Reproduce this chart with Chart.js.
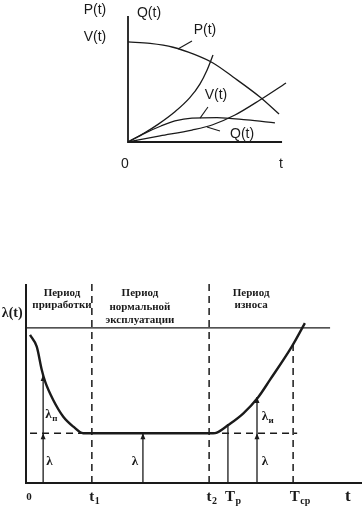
<!DOCTYPE html>
<html>
<head>
<meta charset="utf-8">
<script src="https://cdn.jsdelivr.net/npm/chart.js@4"></script>
<style>
  html, body { margin: 0; padding: 0; background: #fff; }
  body { width: 363px; height: 507px; position: relative; overflow: hidden; }
  canvas { position: absolute; left: 0; }
  #topChart { top: 0; }
  #bottomChart { top: 250px; }
</style>
</head>
<body>
<canvas id="topChart" width="363" height="250"></canvas>
<canvas id="bottomChart" width="363" height="257"></canvas>
<script>
// ---- top chart: P(t), Q(t), V(t) ----
const pT = [0, 1.4, 2.85, 4.2, 5.38, 6.65, 8.35, 9.56];
const pVal = [7.94, 7.82, 7.52, 6.95, 6.27, 5.16, 3.57, 2.22];
const fT = [0, 1.08, 1.9, 2.97, 3.9, 4.55, 5.0, 5.38];
const fVal = [0, 0.75, 1.4, 2.4, 3.5, 4.6, 5.7, 6.9];
const vT = [0, 1.08, 2.09, 2.97, 4.05, 5.63, 7.53, 9.3];
const vVal = [0, 0.71, 1.27, 1.67, 1.9, 1.94, 1.75, 1.51];
const qT = [0, 2.03, 4.05, 5.32, 6.77, 8.35, 10];
const qVal = [0, 0.48, 0.95, 1.35, 2.14, 3.33, 4.68];

// ---- bottom chart: failure rate lambda(t) ----
const lamT = [1.2, 3.2, 4.7, 5.7, 8.1, 11.1, 14.1, 17.0, 20, 35, 55.7, 56.8, 60.2, 64.7, 69.1, 72.6, 79.1, 83.0];
const lamVal = [74.4, 68.5, 56.8, 50.9, 41.7, 33.3, 28.3, 25.0, 25, 25, 25, 25.3, 29.1, 35.0, 43.1, 51.8, 68.5, 80.3];
const lamTop = 78;
const lamBase = 25;
const periodX = [19.6, 54.5];       // t1, t2
const resourceX = 60.1;             // Tр
const meanX = 79.5;                 // Tср
const meanTop = 70;
const arrowX = [5.1, 34.8, 68.75];
const arrowTop = [54.3, 25, 43.2];

const ink = '#1a1a1a';

function pts(xs, ys) {
  return xs.map((x, i) => ({ x: x, y: ys[i] }));
}

function lineDs(data, width, dash) {
  return {
    data: data,
    borderColor: ink,
    borderWidth: width,
    borderDash: dash || [],
    pointRadius: 0,
    tension: 0,
    fill: false,
    clip: false
  };
}

function curveDs(data, width) {
  const ds = lineDs(data, width);
  ds.cubicInterpolationMode = 'monotone';
  return ds;
}

// text with optional subscript, first part centred on x
function subText(ctx, main, sub, x, y, font, subFont) {
  ctx.font = font;
  const w = ctx.measureText(main).width;
  ctx.textAlign = 'left';
  ctx.fillText(main, x - w / 2, y);
  if (sub) {
    ctx.font = subFont;
    ctx.fillText(sub, x + w / 2 + 0.5, y + 4);
  }
}

const topLabels = {
  id: 'topLabels',
  afterDatasetsDraw(chart) {
    const ctx = chart.ctx, xs = chart.scales.x, ys = chart.scales.y;
    const X = v => xs.getPixelForValue(v), Y = v => ys.getPixelForValue(v);
    ctx.save();
    ctx.strokeStyle = ink;
    ctx.lineWidth = 1.8;
    ctx.beginPath();
    ctx.moveTo(X(0), Y(10));
    ctx.lineTo(X(0), Y(0));
    ctx.lineTo(X(9.75), Y(0));
    ctx.stroke();

    // leaders
    ctx.lineWidth = 1.1;
    [[3.16, 7.38, 4.05, 8.02], [4.56, 1.9, 5.06, 2.78], [5.0, 1.19, 5.82, 0.87]].forEach(l => {
      ctx.beginPath();
      ctx.moveTo(X(l[0]), Y(l[1]));
      ctx.lineTo(X(l[2]), Y(l[3]));
      ctx.stroke();
    });

    ctx.fillStyle = ink;
    ctx.font = '14px "Liberation Sans", Arial, sans-serif';
    ctx.textAlign = 'center';
    ctx.textBaseline = 'middle';
    [['P(t)', -2.09, 10.48], ['Q(t)', 1.33, 10.24], ['V(t)', -2.09, 8.33],
     ['P(t)', 4.87, 8.89], ['V(t)', 5.57, 3.73], ['Q(t)', 7.22, 0.63],
     ['0', -0.19, -1.75], ['t', 9.68, -1.75]].forEach(t => {
      ctx.fillText(t[0], X(t[1]), Y(t[2]));
    });
    ctx.restore();
  }
};

new Chart(document.getElementById('topChart'), {
  type: 'line',
  data: {
    datasets: [
      curveDs(pts(pT, pVal), 1.3),
      curveDs(pts(fT, fVal), 1.3),
      curveDs(pts(vT, vVal), 1.3),
      curveDs(pts(qT, qVal), 1.3)
    ]
  },
  options: {
    responsive: false,
    animation: false,
    layout: { padding: { left: 128, right: 77, top: 16, bottom: 108 } },
    plugins: { legend: { display: false }, tooltip: { enabled: false } },
    scales: {
      x: { type: 'linear', min: 0, max: 10, display: false },
      y: { type: 'linear', min: 0, max: 10, display: false }
    }
  },
  plugins: [topLabels]
});

const bottomLabels = {
  id: 'bottomLabels',
  afterDatasetsDraw(chart) {
    const ctx = chart.ctx, xs = chart.scales.x, ys = chart.scales.y;
    const X = v => xs.getPixelForValue(v), Y = v => ys.getPixelForValue(v);
    ctx.save();
    ctx.strokeStyle = ink;
    ctx.fillStyle = ink;
    ctx.lineWidth = 2;
    ctx.beginPath();
    ctx.moveTo(X(0), Y(100));
    ctx.lineTo(X(0), Y(0));
    ctx.lineTo(X(100), Y(0));
    ctx.stroke();

    // arrow heads
    const head = (x, y) => {
      ctx.beginPath();
      ctx.moveTo(x, y);
      ctx.lineTo(x - 2.5, y + 6);
      ctx.lineTo(x + 2.5, y + 6);
      ctx.closePath();
      ctx.fill();
    };
    arrowX.forEach((ax, i) => {
      head(X(ax), Y(arrowTop[i]));
      if (arrowTop[i] > lamBase) head(X(ax), Y(lamBase));
    });

    const serif = '"Liberation Serif", "DejaVu Serif", serif';
    ctx.textBaseline = 'middle';
    ctx.textAlign = 'center';
    ctx.font = 'bold 11px ' + serif;
    [['Период', 10.7, 95.5], ['приработки', 10.7, 89.4],
     ['Период', 33.9, 95.5], ['нормальной', 33.9, 88.4], ['эксплуатации', 33.9, 81.9],
     ['Период', 67, 95.5], ['износа', 67, 89.4]].forEach(t => {
      ctx.fillText(t[0], X(t[1]), Y(t[2]));
    });

    ctx.font = 'bold 14px ' + serif;
    ctx.fillText('λ(t)', X(-4.1), Y(85.4));

    const f = 'bold 13px ' + serif, sf = 'bold 9px ' + serif;
    subText(ctx, 'λ', 'п', X(6.7), Y(34.2), f, sf);
    subText(ctx, 'λ', '', X(7.0), Y(10.6), f, sf);
    subText(ctx, 'λ', '', X(32.4), Y(10.6), f, sf);
    subText(ctx, 'λ', 'и', X(71.1), Y(33.2), f, sf);
    subText(ctx, 'λ', '', X(71.1), Y(10.6), f, sf);

    const xf = 'bold 15px ' + serif, xsf = 'bold 10px ' + serif;
    subText(ctx, '0', '', X(0.9), Y(-7), 'bold 11px ' + serif, xsf);
    subText(ctx, 't', '1', X(periodX[0]), Y(-7), xf, xsf);
    subText(ctx, 't', '2', X(periodX[1]), Y(-7), xf, xsf);
    subText(ctx, 'T', 'р', X(resourceX + 0.6), Y(-7), xf, xsf);
    subText(ctx, 'T', 'ср', X(meanX + 0.5), Y(-7), xf, xsf);
    subText(ctx, 't', '', X(95.8), Y(-7), 'bold 17px ' + serif, xsf);
    ctx.restore();
  }
};

const dash = [7, 5];
const bottomSets = [
  curveDs(pts(lamT, lamVal), 2.4),
  lineDs([{ x: 0, y: lamTop }, { x: 90.5, y: lamTop }], 1.3),
  lineDs([{ x: 1.2, y: lamBase }, { x: 80.7, y: lamBase }], 1.4, dash),
  lineDs([{ x: meanX, y: 0 }, { x: meanX, y: meanTop }], 1.5, dash),
  lineDs([{ x: resourceX, y: 0 }, { x: resourceX, y: 29.6 }], 1.3)
];
periodX.forEach(px => {
  bottomSets.push(lineDs([{ x: px, y: 0 }, { x: px, y: 101 }], 1.5, dash));
});
arrowX.forEach((ax, i) => {
  bottomSets.push(lineDs([{ x: ax, y: 0 }, { x: ax, y: arrowTop[i] }], 1.3));
});

new Chart(document.getElementById('bottomChart'), {
  type: 'line',
  data: { datasets: bottomSets },
  options: {
    responsive: false,
    animation: false,
    layout: { padding: { left: 26, right: 1, top: 34, bottom: 24 } },
    plugins: { legend: { display: false }, tooltip: { enabled: false } },
    scales: {
      x: { type: 'linear', min: 0, max: 100, display: false },
      y: { type: 'linear', min: 0, max: 100, display: false }
    }
  },
  plugins: [bottomLabels]
});
</script>
</body>
</html>
